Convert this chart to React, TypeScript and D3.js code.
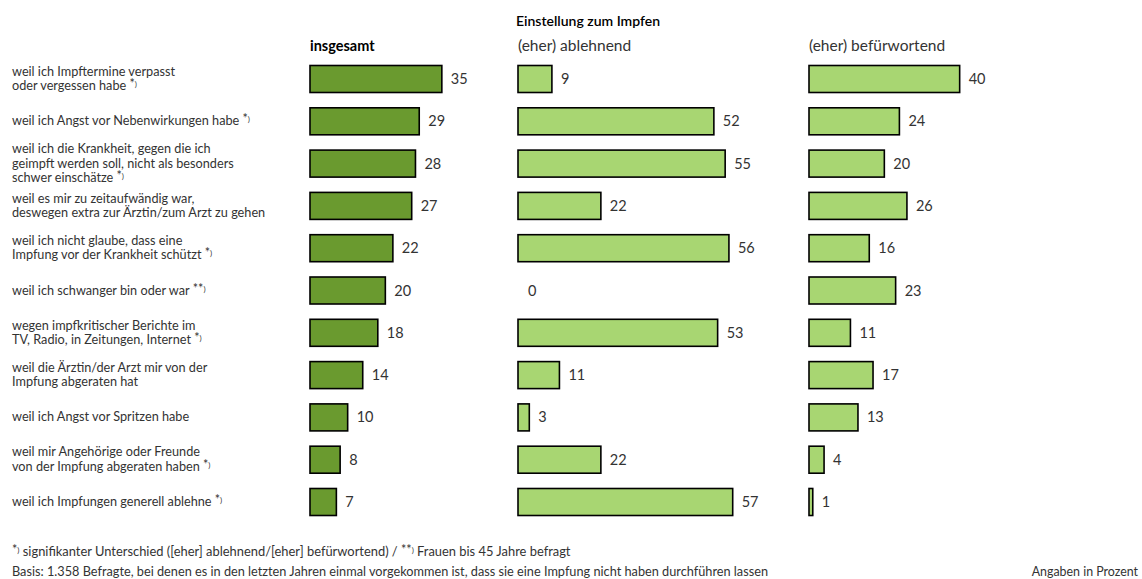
import React from "react";
import * as d3 from "d3";

// Gründe, warum eine Impfung nicht durchgeführt wurde
const categories: string[][] = [
  ["weil ich Impftermine verpasst", "oder vergessen habe"],
  ["weil ich Angst vor Nebenwirkungen habe"],
  ["weil ich die Krankheit, gegen die ich", "geimpft werden soll, nicht als besonders", "schwer einschätze"],
  ["weil es mir zu zeitaufwändig war,", "deswegen extra zur Ärztin/zum Arzt zu gehen"],
  ["weil ich nicht glaube, dass eine", "Impfung vor der Krankheit schützt"],
  ["weil ich schwanger bin oder war"],
  ["wegen impfkritischer Berichte im", "TV, Radio, in Zeitungen, Internet"],
  ["weil die Ärztin/der Arzt mir von der", "Impfung abgeraten hat"],
  ["weil ich Angst vor Spritzen habe"],
  ["weil mir Angehörige oder Freunde", "von der Impfung abgeraten haben"],
  ["weil ich Impfungen generell ablehne"],
];
const marks: string[] = ["*", "*", "*", "", "*", "**", "*", "", "", "*", "*"];

const insgesamt = [35, 29, 28, 27, 22, 20, 18, 14, 10, 8, 7];
const ablehnend = [9, 52, 55, 22, 56, 0, 53, 11, 3, 22, 57];
const befuerwortend = [40, 24, 20, 26, 16, 23, 11, 17, 13, 4, 1];

const columns = [
  { title: "insgesamt", values: insgesamt, x0: 310, fill: "#6a9a2f", bold: true },
  { title: "(eher) ablehnend", values: ablehnend, x0: 518, fill: "#a8d672", bold: false },
  { title: "(eher) befürwortend", values: befuerwortend, x0: 809, fill: "#a8d672", bold: false },
];

const W = 1142;
const H = 579;
const FONT = "Lato, 'Open Sans', sans-serif";
const TXT = "#333";

// Fußnotenzeichen "*)" mit kleiner Klammer
const Mark: React.FC<{ m: string }> = ({ m }) => (
  <>
    <tspan fontSize={12.5} dy={-2}>{" " + m}</tspan>
    <tspan fontSize={8} dy={-1}>)</tspan>
  </>
);

export default function App() {
  const idx = d3.range(categories.length);
  const y = d3.scalePoint<number>().domain(idx).range([79, 502]);
  const x = d3.scaleLinear().domain([0, 60]).range([0, 226]);
  const barH = 27;
  const lineH = 14.5;

  return (
    <svg width={W} height={H} style={{ position: "absolute", left: 0, top: 0, fontFamily: FONT }}>
      <rect width={W} height={H} fill="#fff" />
      <text x={516} y={26} fontSize={14} fontWeight={600} fill="#000">Einstellung zum Impfen</text>
      {columns.map((c) => (
        <text key={c.title} x={c.x0} y={51} fontSize={c.bold ? 14.5 : 15.5} fontWeight={c.bold ? 700 : 400} fill={c.bold ? "#000" : TXT}>
          {c.title}
        </text>
      ))}

      {/* Kategorien */}
      {categories.map((lines, i) => {
        const cy = y(i)!;
        const top = cy - ((lines.length - 1) * lineH) / 2;
        return (
          <text key={i} fontSize={12.7} fill={TXT}>
            {lines.map((l, j) => (
              <tspan key={j} x={12} y={top + j * lineH + 4}>
                {l}
                {j === lines.length - 1 && marks[i] ? <Mark m={marks[i]} /> : null}
              </tspan>
            ))}
          </text>
        );
      })}

      {/* Balken */}
      {columns.map((c) => (
        <g key={c.title} transform={`translate(${c.x0},0)`}>
          {c.values.map((v, i) => {
            const cy = y(i)!;
            const w = x(v);
            return (
              <g key={i}>
                {v > 0 && (
                  <rect x={0} y={cy - barH / 2} width={w} height={barH} fill={c.fill} stroke="#000" strokeWidth={1.6} />
                )}
                <text x={w + (v > 0 ? 9 : 10)} y={cy + 5} fontSize={14.5} fill={TXT}>{v}</text>
              </g>
            );
          })}
        </g>
      ))}

      {/* Fußnoten */}
      <text x={12} y={556} fontSize={12.9} fill={TXT}>
        <tspan fontSize={12.5} dy={-2}>*</tspan>
        <tspan fontSize={8} dy={-1}>)</tspan>
        <tspan dy={3}> signifikanter Unterschied ([eher] ablehnend/[eher] befürwortend) / </tspan>
        <tspan fontSize={12.5} dy={-2}>**</tspan>
        <tspan fontSize={8} dy={-1}>)</tspan>
        <tspan dy={3}> Frauen bis 45 Jahre befragt</tspan>
      </text>
      <text x={12} y={576} fontSize={12.6} fill={TXT} textLength={756} lengthAdjust="spacingAndGlyphs">
        Basis: 1.358 Befragte, bei denen es in den letzten Jahren einmal vorgekommen ist, dass sie eine Impfung nicht haben durchführen lassen
      </text>
      <text x={1138} y={576} fontSize={12.4} fill={TXT} textAnchor="end">Angaben in Prozent</text>
    </svg>
  );
}
